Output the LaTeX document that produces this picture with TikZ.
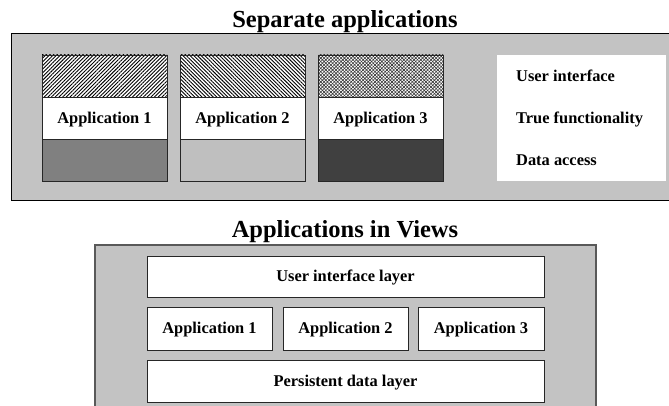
\documentclass[tikz,border=0pt]{standalone}
\usepackage{fontspec}
\setmainfont{Liberation Serif}
\usetikzlibrary{patterns.meta}
\definecolor{panelgray}{HTML}{C3C3C3}
\definecolor{dataA}{HTML}{808080}
\definecolor{dataB}{HTML}{BFBFBF}
\definecolor{dataC}{HTML}{404040}
\newcommand{\diagbody}{\fontsize{16.4}{19}\selectfont\bfseries}
\newcommand{\diagtitle}{\fontsize{24.5}{28}\selectfont\bfseries}
\begin{document}
\begin{tikzpicture}[x=1pt,y=-1pt,
  panel/.style={draw=black, line width=1pt, fill=panelgray, inner sep=0pt},
  lowpanel/.style={draw=black!65, line width=1.3pt, fill=panelgray, inner sep=0pt},
  part/.style={draw=black!85, line width=0.9pt, inner sep=0pt,
    minimum width=125pt, minimum height=42pt,
    text height=10.85pt, text depth=0pt, font=\diagbody},
  layer/.style={draw=black!85, line width=0.9pt, fill=white, inner sep=0pt,
    text height=10.85pt, text depth=0pt, font=\diagbody},
  legend/.style={anchor=west, inner sep=0pt, text height=10.85pt, text depth=0pt, font=\diagbody},
  heading/.style={inner sep=0pt, text height=16.2pt, text depth=0pt, font=\diagtitle},
  hatchA/.style={preaction={fill=white}, pattern={Lines[angle=45,distance=2.6pt,line width=0.9pt]}, pattern color=black},
  hatchB/.style={preaction={fill=white}, pattern={Lines[angle=-45,distance=2.6pt,line width=0.9pt]}, pattern color=black},
  hatchC/.style={preaction={fill=white}, preaction={pattern={Lines[angle=45,distance=2.4pt,line width=0.6pt]}, pattern color=black!80}, pattern={Lines[angle=-45,distance=2.4pt,line width=0.6pt]}, pattern color=black!80}
]
\useasboundingbox (0,0) rectangle (669,406);
\clip (0,0) rectangle (669,406);

% ---- top part ----
\node[heading] (t1) at (345,19) {Separate applications};
\node[panel, minimum width=661pt, minimum height=167pt] (toppanel) at (341.5,117.5) {};

\node[part, hatchA] (ui1) at (104.5,76) {};
\node[part, fill=white] (app1) at (104.5,118) {Application 1};
\node[part, fill=dataA] (da1) at (104.5,160) {};

\node[part, hatchB] (ui2) at (242.5,76) {};
\node[part, fill=white] (app2) at (242.5,118) {Application 2};
\node[part, fill=dataB] (da2) at (242.5,160) {};

\node[part, hatchC] (ui3) at (380.5,76) {};
\node[part, fill=white] (app3) at (380.5,118) {Application 3};
\node[part, fill=dataC] (da3) at (380.5,160) {};

\node[fill=white, inner sep=0pt, minimum width=169pt, minimum height=126pt] (leg) at (581.5,118) {};
\node[legend] (l1) at (516,76) {User interface};
\node[legend] (l2) at (516,118) {True functionality};
\node[legend] (l3) at (516,160) {Data access};

% ---- bottom part ----
\node[heading] (t2) at (345,229) {Applications in Views};
\node[lowpanel, minimum width=501pt, minimum height=165pt] (lowpanelnode) at (345.5,327.5) {};

\node[layer, minimum width=397pt, minimum height=41pt] (uil) at (345.5,276.5) {User interface layer};
\node[layer, minimum width=125pt, minimum height=43pt] (va1) at (209.5,328.5) {Application 1};
\node[layer, minimum width=125pt, minimum height=43pt] (va2) at (345.5,328.5) {Application 2};
\node[layer, minimum width=126pt, minimum height=43pt] (va3) at (481,328.5) {Application 3};
\node[layer, minimum width=397pt, minimum height=42pt] (pdl) at (345.5,381) {Persistent data layer};
\end{tikzpicture}
\end{document}
